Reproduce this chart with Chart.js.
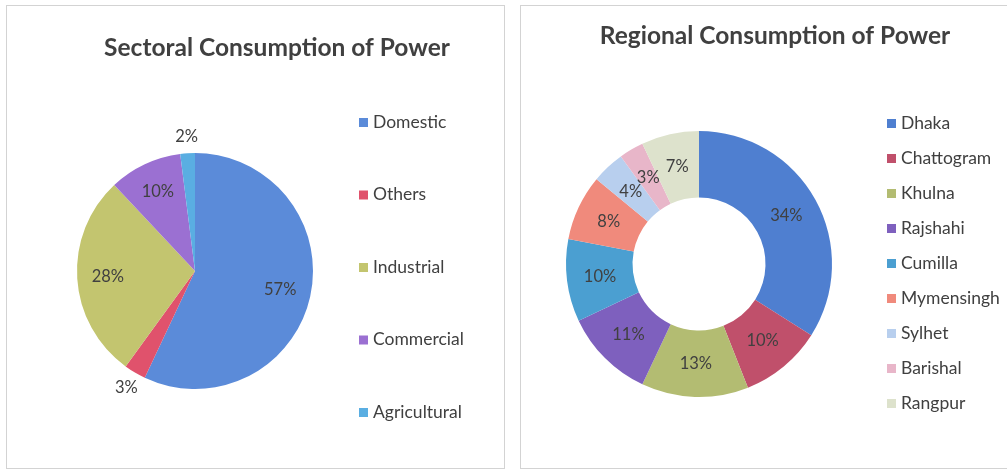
<!DOCTYPE html>
<html>
<head>
<meta charset="utf-8">
<title>Power Consumption</title>
<script src="https://cdn.jsdelivr.net/npm/chart.js@4.4.1/dist/chart.umd.min.js"></script>
<style>
  body { margin: 0; background: #fff; width: 1007px; height: 470px; overflow: hidden; position: relative; }
  .panel { position: absolute; border: 1px solid #d3d3d3; background: #fff; }
  canvas { position: absolute; top: 0; }
</style>
</head>
<body>
<div class="panel" style="left:6px;top:5px;width:497px;height:462px"></div>
<div class="panel" style="left:520px;top:5px;width:500px;height:462px"></div>
<canvas id="sectorChart" width="510" height="470" style="left:0"></canvas>
<canvas id="regionChart" width="492" height="470" style="left:515px"></canvas>
<script>
// sectoral split, percent
const sectors = ['Domestic', 'Others', 'Industrial', 'Commercial', 'Agricultural'];
const sectorShare = [57, 3, 28, 10, 2];
const sectorColors = ['#5b8bd9', '#e0526c', '#c3c56f', '#9b70d2', '#5aaee2'];

// regional split, percent
const regions = ['Dhaka', 'Chattogram', 'Khulna', 'Rajshahi', 'Cumilla', 'Mymensingh', 'Sylhet', 'Barishal', 'Rangpur'];
const regionShare = [34, 10, 13, 11, 10, 8, 4, 3, 7];
const regionColors = ['#4f7fd0', '#c0506b', '#b3bc72', '#7e60be', '#4b9fd1', '#f08a7c', '#b8cfee', '#e8b6c9', '#dde2cc'];

const textColor = '#404040';

// title, legend and slice percentages drawn straight onto the canvas
const panelText = {
    id: 'panelText',
    afterDraw(chart, args, opts) {
        const ctx = chart.ctx;
        const ds = chart.data.datasets[0];
        ctx.save();
        ctx.textBaseline = 'middle';

        ctx.fillStyle = textColor;
        ctx.font = 'bold 24.5px Lato';
        ctx.textAlign = 'center';
        ctx.fillText(opts.title, opts.titleX, opts.titleY);

        ctx.font = '17.5px Lato';
        ctx.textAlign = 'left';
        chart.data.labels.forEach(function(label, i) {
            const y = opts.legendY + i * opts.legendStep;
            ctx.fillStyle = ds.backgroundColor[i];
            ctx.fillRect(opts.legendX, y - 4, 9, 9);
            ctx.fillStyle = textColor;
            ctx.fillText(label, opts.legendX + 14, y);
        });

        ctx.font = '16.5px Lato';
        ctx.textAlign = 'center';
        ctx.fillStyle = textColor;
        chart.getDatasetMeta(0).data.forEach(function(arc, i) {
            const p = arc.getProps(['x', 'y', 'startAngle', 'endAngle', 'innerRadius', 'outerRadius'], true);
            const v = ds.data[i];
            const mid = (p.startAngle + p.endAngle) / 2;
            let r;
            if (p.innerRadius > 0) {
                r = (p.innerRadius + p.outerRadius) / 2;
            } else {
                r = v < 5 ? p.outerRadius + 17 : p.outerRadius * 0.74;
            }
            ctx.fillText(v + '%', p.x + Math.cos(mid) * r, p.y + Math.sin(mid) * r);
        });
        ctx.restore();
    }
};

function makeChart(id, type, labels, values, colors, padding, text, extra) {
    const ctx = document.getElementById(id).getContext('2d');
    return new Chart(ctx, {
        type: type,
        data: {
            labels: labels,
            datasets: [{
                data: values,
                backgroundColor: colors,
                borderWidth: 0,
                hoverOffset: 0
            }]
        },
        options: Object.assign({
            responsive: false,
            animation: false,
            events: [],
            layout: { padding: padding },
            plugins: {
                legend: { display: false },
                tooltip: { enabled: false },
                panelText: text
            }
        }, extra),
        plugins: [panelText]
    });
}

makeChart('sectorChart', 'pie', sectors, sectorShare, sectorColors,
    { left: 77, right: 197, top: 153, bottom: 81 },
    { title: 'Sectoral Consumption of Power', titleX: 277, titleY: 48, legendX: 359, legendY: 122, legendStep: 72.5 },
    {});

makeChart('regionChart', 'doughnut', regions, regionShare, regionColors,
    { left: 51, right: 175, top: 131, bottom: 73 },
    { title: 'Regional Consumption of Power', titleX: 260, titleY: 36, legendX: 372, legendY: 123, legendStep: 35 },
    { cutout: '50%' });
</script>
</body>
</html>
